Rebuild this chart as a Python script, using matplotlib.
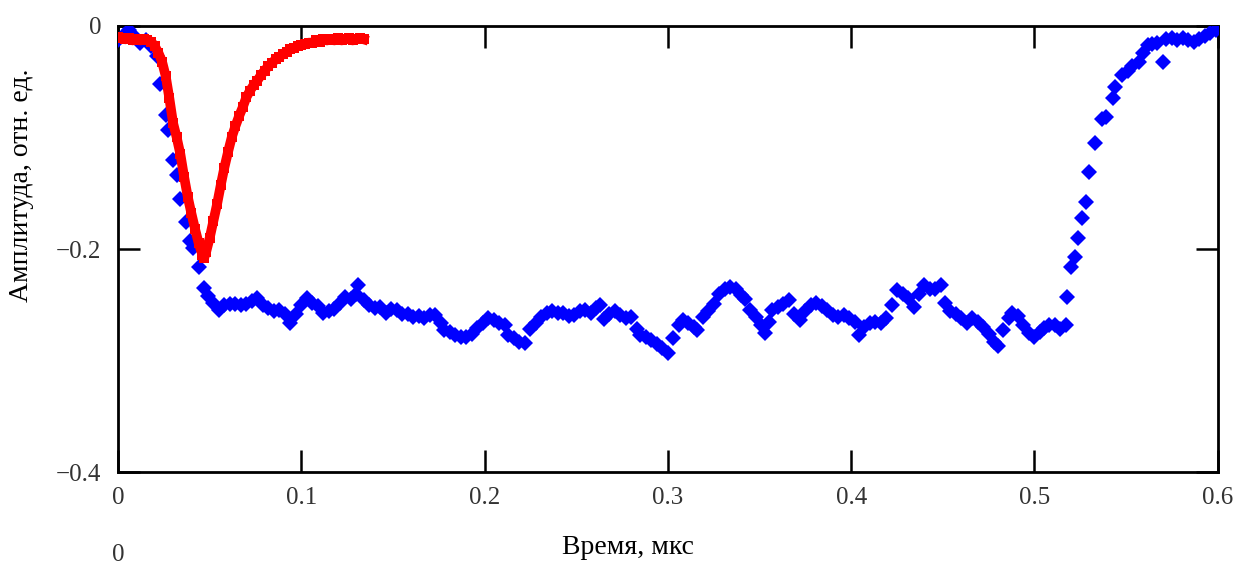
import numpy as np
import matplotlib
matplotlib.use('Agg')
import matplotlib.pyplot as plt

# blue series (x in us, y in rel. units)
blue_x = [0.000, 0.003, 0.006, 0.009, 0.012, 0.015, 0.018, 0.021, 0.023, 0.026,
          0.027, 0.030, 0.032, 0.034, 0.037, 0.039, 0.041, 0.044, 0.047, 0.049,
          0.052, 0.055, 0.058, 0.061, 0.064, 0.067, 0.070, 0.073, 0.076, 0.079,
          0.082, 0.085, 0.088, 0.091, 0.094, 0.097, 0.100, 0.103, 0.106, 0.109,
          0.112, 0.115, 0.118, 0.121, 0.124, 0.127, 0.130, 0.131, 0.134, 0.137,
          0.140, 0.143, 0.146, 0.149, 0.152, 0.155, 0.158, 0.161, 0.164, 0.167,
          0.170, 0.173, 0.176, 0.178, 0.181, 0.184, 0.187, 0.190, 0.193, 0.196,
          0.199, 0.202, 0.205, 0.208, 0.211, 0.213, 0.216, 0.219, 0.222, 0.225,
          0.228, 0.231, 0.234, 0.237, 0.240, 0.243, 0.246, 0.249, 0.252, 0.255,
          0.258, 0.261, 0.263, 0.265, 0.268, 0.271, 0.274, 0.277, 0.280, 0.283,
          0.285, 0.288, 0.291, 0.294, 0.297, 0.300, 0.303, 0.306, 0.308, 0.311,
          0.314, 0.316, 0.319, 0.322, 0.325, 0.328, 0.331, 0.334, 0.337, 0.340,
          0.342, 0.345, 0.348, 0.351, 0.353, 0.355, 0.357, 0.360, 0.363, 0.366,
          0.369, 0.372, 0.375, 0.378, 0.381, 0.384, 0.387, 0.390, 0.393, 0.396,
          0.399, 0.402, 0.404, 0.407, 0.410, 0.413, 0.416, 0.419, 0.422, 0.425,
          0.428, 0.431, 0.434, 0.437, 0.440, 0.443, 0.446, 0.449, 0.451, 0.454,
          0.457, 0.460, 0.463, 0.466, 0.469, 0.472, 0.475, 0.478, 0.480, 0.483,
          0.486, 0.488, 0.491, 0.494, 0.497, 0.500, 0.503, 0.505, 0.508, 0.511,
          0.514, 0.517, 0.518, 0.520, 0.522, 0.524, 0.526, 0.528, 0.530, 0.533,
          0.537, 0.539, 0.543, 0.544, 0.548, 0.551, 0.553, 0.557, 0.559, 0.562,
          0.564, 0.567, 0.570, 0.572, 0.575, 0.578, 0.581, 0.584, 0.587, 0.590,
          0.593, 0.596, 0.599]
blue_y = [-0.013, -0.008, -0.004, -0.010, -0.015, -0.013, -0.018, -0.027, -0.052, -0.080,
          -0.093, -0.120, -0.134, -0.155, -0.176, -0.193, -0.199, -0.216, -0.235, -0.242,
          -0.248, -0.255, -0.250, -0.249, -0.249, -0.250, -0.249, -0.247, -0.244, -0.250,
          -0.253, -0.256, -0.255, -0.258, -0.266, -0.258, -0.250, -0.244, -0.248, -0.251,
          -0.257, -0.256, -0.254, -0.248, -0.243, -0.245, -0.240, -0.232, -0.246, -0.250,
          -0.253, -0.252, -0.257, -0.254, -0.255, -0.258, -0.258, -0.261, -0.260, -0.262,
          -0.259, -0.259, -0.266, -0.273, -0.274, -0.277, -0.279, -0.279, -0.276, -0.271,
          -0.266, -0.262, -0.264, -0.266, -0.268, -0.277, -0.280, -0.283, -0.284, -0.272,
          -0.266, -0.261, -0.257, -0.256, -0.257, -0.257, -0.260, -0.259, -0.256, -0.255,
          -0.257, -0.253, -0.250, -0.263, -0.258, -0.256, -0.259, -0.262, -0.261, -0.272,
          -0.277, -0.279, -0.282, -0.285, -0.289, -0.293, -0.280, -0.268, -0.264, -0.266,
          -0.270, -0.273, -0.261, -0.256, -0.249, -0.240, -0.236, -0.234, -0.236, -0.241,
          -0.245, -0.255, -0.261, -0.268, -0.275, -0.265, -0.255, -0.252, -0.249, -0.246,
          -0.258, -0.264, -0.256, -0.250, -0.248, -0.251, -0.255, -0.259, -0.261, -0.259,
          -0.262, -0.265, -0.277, -0.270, -0.266, -0.265, -0.266, -0.262, -0.250, -0.237,
          -0.240, -0.244, -0.252, -0.240, -0.232, -0.236, -0.236, -0.232, -0.248, -0.256,
          -0.258, -0.262, -0.266, -0.262, -0.265, -0.270, -0.276, -0.283, -0.287, -0.273,
          -0.262, -0.257, -0.260, -0.268, -0.275, -0.279, -0.274, -0.271, -0.268, -0.268,
          -0.272, -0.268, -0.243, -0.216, -0.207, -0.190, -0.172, -0.158, -0.131, -0.105,
          -0.083, -0.082, -0.065, -0.055, -0.044, -0.040, -0.036, -0.032, -0.024, -0.017,
          -0.016, -0.015, -0.032, -0.012, -0.011, -0.013, -0.011, -0.013, -0.014, -0.012,
          -0.009, -0.006, -0.004]

# red series
red_x = [0.000, 0.002, 0.004, 0.006, 0.008, 0.010, 0.012, 0.014, 0.016, 0.018,
         0.020, 0.022, 0.024, 0.026, 0.028, 0.030, 0.032, 0.034, 0.036, 0.038,
         0.040, 0.042, 0.044, 0.046, 0.047, 0.048, 0.050, 0.052, 0.054, 0.056,
         0.058, 0.060, 0.062, 0.064, 0.066, 0.068, 0.070, 0.072, 0.074, 0.076,
         0.078, 0.080, 0.082, 0.084, 0.086, 0.088, 0.090, 0.092, 0.094, 0.096,
         0.098, 0.100, 0.102, 0.104, 0.106, 0.108, 0.110, 0.112, 0.114, 0.116,
         0.118, 0.120, 0.122, 0.124, 0.126, 0.128, 0.130, 0.132, 0.134]
red_y = [-0.010, -0.011, -0.012, -0.011, -0.013, -0.012, -0.013, -0.012, -0.013, -0.014,
         -0.018, -0.024, -0.032, -0.045, -0.065, -0.087, -0.100, -0.115, -0.135, -0.153,
         -0.168, -0.182, -0.195, -0.205, -0.208, -0.203, -0.190, -0.175, -0.160, -0.143,
         -0.127, -0.113, -0.100, -0.090, -0.081, -0.073, -0.064, -0.058, -0.053, -0.049,
         -0.044, -0.040, -0.036, -0.033, -0.030, -0.028, -0.025, -0.023, -0.021, -0.020,
         -0.018, -0.017, -0.016, -0.015, -0.015, -0.013, -0.014, -0.012, -0.013, -0.012,
         -0.013, -0.011, -0.013, -0.012, -0.011, -0.013, -0.012, -0.011, -0.012]

xticks = [0, 0.1, 0.2, 0.3, 0.4, 0.5, 0.6]
xtick_labels = ['0', '0.1', '0.2', '0.3', '0.4', '0.5', '0.6']
yticks = [-0.4, -0.2, 0]
ytick_labels = ['\u22120.4', '\u22120.2', '0']

plt.rcParams['font.family'] = ['Liberation Serif', 'DejaVu Serif']

fig = plt.figure(figsize=(12.44, 5.64), dpi=100)
ax = fig.add_axes([0.0949, 0.163, 0.884, 0.791])

ax.plot(blue_x, blue_y, linestyle='none', marker='D', markersize=8.5,
        color='#0000ff', markeredgewidth=0, zorder=3)
ax.plot(red_x, red_y, color='#ff0000', linewidth=7, zorder=4)
ax.plot(red_x, red_y, linestyle='none', marker='s', markersize=7,
        color='#ff0000', markeredgewidth=0, zorder=4)

ax.set_xlim(0, 0.6)
ax.set_ylim(-0.4, 0)
ax.set_xticks(xticks)
ax.set_xticklabels(xtick_labels)
ax.set_yticks(yticks)
ax.set_yticklabels(ytick_labels)
ax.tick_params(direction='in', top=True, right=True, length=16, width=1.8,
               labelsize=18, labelcolor='#333333')
ax.tick_params(axis='x', pad=11)
ax.tick_params(axis='y', pad=12)
for sp in ax.spines.values():
    sp.set_linewidth(2)
    sp.set_color('black')

fig.text(628/1244, 1-547/564, 'Время, мкс', fontsize=20, ha='center', va='center')
fig.text(22/1244, 1-185/564, 'Амплитуда, отн. ед.', fontsize=20, rotation=90,
         ha='center', va='center')
fig.text(118/1244, 1-555/564, '0', fontsize=18, color='#333333', ha='center', va='center')

fig.savefig('out.png', dpi=100)
